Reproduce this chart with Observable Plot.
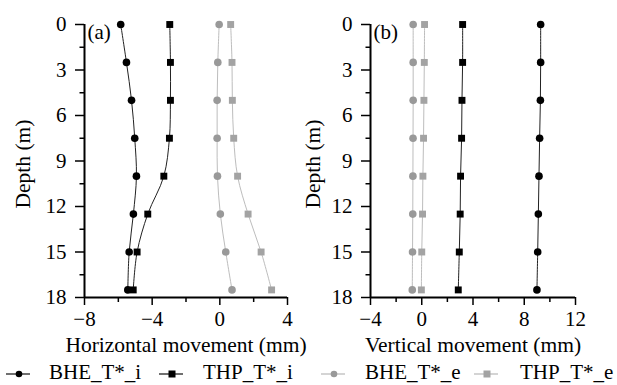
<!DOCTYPE html>
<html>
<head>
<meta charset="utf-8">
<script src="https://cdn.jsdelivr.net/npm/d3@7"></script>
<script src="https://cdn.jsdelivr.net/npm/@observablehq/plot@0.6"></script>
<style>
  body { margin: 0; background: #fff; }
  #wrap { position: relative; width: 617px; height: 385px; overflow: hidden; font-family: "Liberation Serif", "Times New Roman", serif; }
  .panel { position: absolute; top: 0; }
  .leg { position: absolute; top: 362px; font-size: 21px; line-height: 21px; white-space: nowrap; color: #000; }
  .sym { position: absolute; top: 366px; }
</style>
</head>
<body>
<div id="wrap"></div>
<script>
// Data
const depth = [0, 2.5, 5, 7.5, 10, 12.5, 15, 17.5];
// Panel (a) horizontal movement (mm)
const aBHEi = [-5.86, -5.52, -5.22, -5.03, -4.93, -5.11, -5.36, -5.44];
const aTHPi = [-2.96, -2.92, -2.92, -2.98, -3.31, -4.26, -4.89, -5.12];
const aBHEe = [-0.04, -0.12, -0.16, -0.16, -0.14, 0.03, 0.35, 0.72];
const aTHPe = [0.64, 0.72, 0.74, 0.82, 1.05, 1.67, 2.44, 3.06];
// Panel (b) vertical movement (mm)
const bBHEi = [9.28, 9.28, 9.26, 9.2, 9.15, 9.1, 9.05, 8.99];
const bTHPi = [3.19, 3.19, 3.14, 3.11, 3.03, 3.0, 2.93, 2.85];
const bBHEe = [-0.67, -0.67, -0.67, -0.68, -0.69, -0.7, -0.72, -0.74];
const bTHPe = [0.22, 0.2, 0.17, 0.14, 0.09, 0.06, 0.0, -0.03];

const seriesNames = ["BHE_T*_i", "THP_T*_i", "BHE_T*_e", "THP_T*_e"];
const depthTicks = [0, 3, 6, 9, 12, 15, 18];
const depthMinor = [1.5, 4.5, 7.5, 10.5, 13.5, 16.5];
const aTicks = [-8, -4, 0, 4];
const aMinor = [-6, -2, 2];
const bTicks = [-4, 0, 4, 8, 12];
const bMinor = [-2, 2, 6, 10];

const styles = [
  {symbol: "circle", fill: "#000", line: "#222", r: 3.8},
  {symbol: "square", fill: "#000", line: "#222", r: 3.9},
  {symbol: "circle", fill: "#999", line: "#bdbdbd", r: 3.8},
  {symbol: "square", fill: "#a3a3a3", line: "#bdbdbd", r: 3.9}
];

function makePanel(vals, xDomain, ticks, minor, xLabel, tag, opts) {
  const data = [];
  vals.forEach((arr, s) => arr.forEach((v, i) => data.push({s, x: v, y: depth[i]})));
  const marks = [];
  [2, 3, 0, 1].forEach(s => {
    const st = styles[s];
    const d = data.filter(e => e.s === s);
    marks.push(Plot.line(d, {x: "x", y: "y", stroke: st.line, strokeWidth: 1, curve: "catmull-rom"}));
  });
  [2, 3, 0, 1].forEach(s => {
    const st = styles[s];
    const d = data.filter(e => e.s === s);
    marks.push(Plot.dot(d, {x: "x", y: "y", symbol: () => st.symbol, fill: st.fill, r: st.r, stroke: "none"}));
  });
  marks.push(
    Plot.axisY(depthTicks, {tickSize: 9, tickPadding: 9, strokeWidth: 1.5, label: null, fontSize: 21}),
    Plot.axisY(depthMinor, {tickSize: 4.5, tickFormat: () => "", strokeWidth: 1.5, label: null}),
    Plot.axisX(ticks, {tickSize: 8, tickPadding: 6, strokeWidth: 1.5, label: null, fontSize: 21}),
    Plot.axisX(minor, {tickSize: 5, tickFormat: () => "", strokeWidth: 1.5, label: null}),
    Plot.ruleX([xDomain[0]], {strokeWidth: 2}),
    Plot.ruleY([18], {strokeWidth: 2}),
    Plot.text([xLabel], {frameAnchor: "bottom", dy: 48, fontSize: 21.5, lineAnchor: "middle"}),
    Plot.text(["Depth (m)"], {frameAnchor: "left", dx: opts.ylabelDx, dy: 3, rotate: -90, fontSize: 21.5, lineAnchor: "middle", textAnchor: "middle"}),
    Plot.text([tag], {frameAnchor: "top-left", dx: 3, dy: 8, fontSize: 21, textAnchor: "start", lineAnchor: "middle"})
  );
  return Plot.plot({
    width: opts.width,
    height: 355,
    marginLeft: opts.marginLeft,
    marginRight: opts.marginRight,
    marginTop: 24,
    marginBottom: 58,
    style: {fontFamily: "'Liberation Serif', 'Times New Roman', serif", fontSize: "21px", background: "transparent", color: "#000", overflow: "visible"},
    x: {domain: xDomain, axis: null},
    y: {domain: [0, 18], reverse: true, axis: null},
    marks
  });
}

const wrap = document.getElementById("wrap");
const pa = makePanel([aBHEi, aTHPi, aBHEe, aTHPe], [-8, 4], aTicks, aMinor, "Horizontal movement (mm)", "(a)",
  {width: 330, marginLeft: 84, marginRight: 43, ylabelDx: -61});
pa.classList.add("panel"); pa.style.left = "0px";
wrap.appendChild(pa);
const pb = makePanel([bBHEi, bTHPi, bBHEe, bTHPe], [-4, 12], bTicks, bMinor, "Vertical movement (mm)", "(b)",
  {width: 317, marginLeft: 70, marginRight: 42, ylabelDx: -57});
pb.classList.add("panel"); pb.style.left = "300px";
wrap.appendChild(pb);

// Legend
const legPos = [{sx: 6, tx: 49}, {sx: 159, tx: 203}, {sx: 321, tx: 365}, {sx: 474, tx: 520}];
seriesNames.forEach((name, i) => {
  const st = styles[i];
  const ns = "http://www.w3.org/2000/svg";
  const svg = document.createElementNS(ns, "svg");
  svg.setAttribute("width", 28); svg.setAttribute("height", 16);
  svg.setAttribute("class", "sym");
  svg.style.left = legPos[i].sx + "px";
  const ln = document.createElementNS(ns, "line");
  ln.setAttribute("x1", 0); ln.setAttribute("x2", 24); ln.setAttribute("y1", 8); ln.setAttribute("y2", 8);
  ln.setAttribute("stroke", st.line); ln.setAttribute("stroke-width", 1.3);
  svg.appendChild(ln);
  if (st.symbol === "circle") {
    const c = document.createElementNS(ns, "circle");
    c.setAttribute("cx", 13); c.setAttribute("cy", 8); c.setAttribute("r", 3.3); c.setAttribute("fill", st.fill);
    svg.appendChild(c);
  } else {
    const r = document.createElementNS(ns, "rect");
    r.setAttribute("x", 9.5); r.setAttribute("y", 4.5); r.setAttribute("width", 7); r.setAttribute("height", 7); r.setAttribute("fill", st.fill);
    svg.appendChild(r);
  }
  wrap.appendChild(svg);
  const t = document.createElement("div");
  t.className = "leg";
  t.style.left = legPos[i].tx + "px";
  t.textContent = name;
  wrap.appendChild(t);
});
</script>
</body>
</html>
